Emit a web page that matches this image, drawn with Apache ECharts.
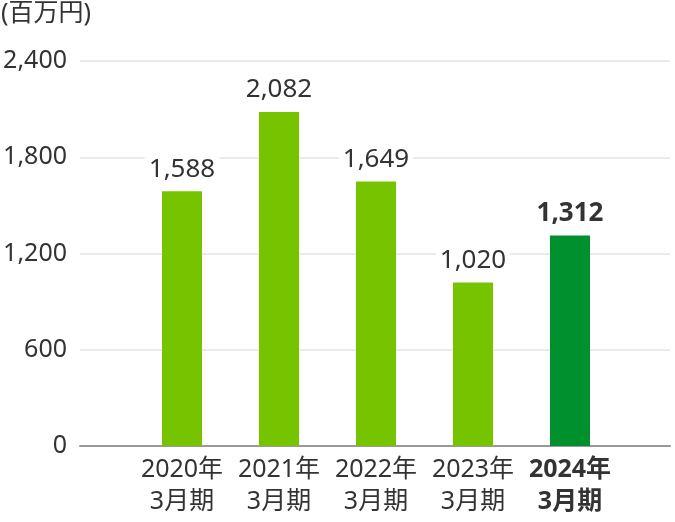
<!DOCTYPE html>
<html><head><meta charset="utf-8">
<script src="https://cdn.jsdelivr.net/npm/echarts@6/dist/echarts.min.js"></script>
<style>html,body{margin:0;padding:0;background:#fff}#c{width:675px;height:522px}</style>
</head><body><div id="c"></div>
<script>
const categories = ['2020年\n3月期','2021年\n3月期','2022年\n3月期','2023年\n3月期','2024年\n3月期'];
const values = [1588, 2082, 1649, 1020, 1312];
const colors = ['#76c400','#76c400','#76c400','#76c400','#00912e'];
const yTicks = [0, 600, 1200, 1800, 2400];
const unitLabel = '(百万円)';
const FONT = '"Noto Sans", "Noto Sans CJK JP", sans-serif';
const chart = echarts.init(document.getElementById('c'));
const lastIdx = categories.length - 1;
chart.setOption({
  animation: false,
  textStyle: {fontFamily: FONT},
  graphic: [{type:'text', left: 1, top: 1, style:{text: unitLabel, font: '25px ' + FONT, fill:'#333'}}],
  grid: [
    {left: 80, right: 5, top: 61, bottom: 76},
    {left: 133.5, right: 56.5, top: 61, bottom: 76}
  ],
  xAxis: [
    {gridIndex:0, type:'value', min:0, max:1, axisLabel:{show:false}, axisTick:{show:false}, splitLine:{show:false},
     axisLine:{show:true, lineStyle:{color:'#999', width:2}}},
    {gridIndex:1, type:'category', data: categories, axisLine:{show:false}, axisTick:{show:false},
     axisLabel:{interval: 0, margin: 8, color:'#333', fontSize: 25, lineHeight: 32, fontFamily: FONT,
       formatter: (v, i) => i === lastIdx ? v.split('\n').map(s => '{b|' + s + '}').join('\n') : v,
       rich: {b: {fontWeight:'bold', fontSize: 25, lineHeight: 32, color:'#333', fontFamily: FONT}}}}
  ],
  yAxis: [
    {gridIndex:0, type:'value', min: yTicks[0], max: yTicks[yTicks.length-1], interval: yTicks[1]-yTicks[0],
     axisLine:{show:false}, axisTick:{show:false},
     axisLabel:{color:'#333', fontSize: 25, margin: 13, fontFamily: FONT, formatter: v => v.toLocaleString('en-US')},
     splitLine:{lineStyle:{color:'#e3e3e3', width: 1.5}}},
    {gridIndex:1, type:'value', min: yTicks[0], max: yTicks[yTicks.length-1], show:false, splitLine:{show:false}}
  ],
  series: [{
    type:'bar', xAxisIndex:1, yAxisIndex:1, barWidth: 40,
    data: values.map((v, i) => ({value: v, itemStyle:{color: colors[i]},
      label: i === lastIdx ? {fontWeight:'bold'} : {}})),
    label: {show:true, position:'top', distance: 9, color:'#333', fontSize: 26, fontFamily: FONT,
      backgroundColor:'#fff', padding:[0,4],
      formatter: p => p.value.toLocaleString('en-US')}
  }]
});
</script></body></html>
